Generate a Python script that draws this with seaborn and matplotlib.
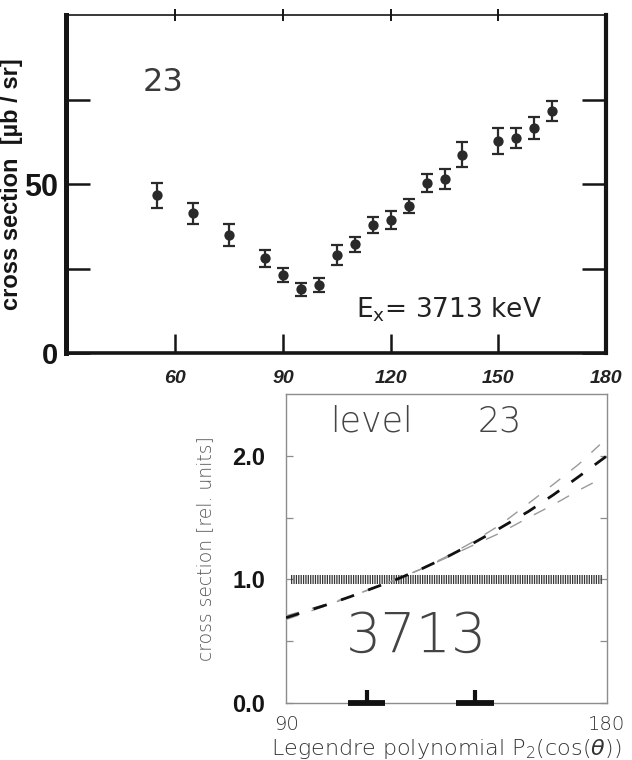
import numpy as np
import pandas as pd
import matplotlib
matplotlib.use("Agg")
import matplotlib.pyplot as plt
import seaborn as sns

# ---- measured angular distribution, level 23 (Ex = 3713 keV) ----
angle_deg = [55, 65, 75, 85, 90, 95, 100, 105, 110, 115, 120, 125, 130, 135, 140, 150, 155, 160, 165]
xsec_ub = [46.7, 41.3, 34.9, 28.0, 23.1, 18.8, 20.1, 28.9, 32.2, 37.9, 39.3, 43.5, 50.4, 51.4, 58.6, 62.7, 63.7, 66.5, 71.7]
xsec_err = [3.7, 3.1, 3.3, 2.6, 2.1, 2.0, 2.0, 3.0, 2.2, 2.3, 2.7, 2.2, 2.7, 2.9, 3.7, 3.9, 3.0, 3.3, 3.0]
top_xticks = [60, 90, 120, 150, 180]
top_yticks = [0, 25, 50, 75]
top_ylabels = ["0", "", "50", ""]

# ---- Legendre fit, relative units ----
fit_angle = [90, 96, 102, 108, 114, 121, 128, 135, 142, 150, 158, 165, 172, 180]
fit_value = [0.69, 0.745, 0.80, 0.86, 0.925, 1.0, 1.085, 1.18, 1.285, 1.415, 1.55, 1.685, 1.83, 2.0]
upper_angle = [90, 96, 102, 108, 114, 121, 128, 135, 142, 150, 158, 165, 172, 178]
upper_value = [0.705, 0.755, 0.805, 0.86, 0.925, 1.0, 1.085, 1.185, 1.297, 1.44, 1.615, 1.77, 1.93, 2.09]
lower_angle = [90, 96, 102, 108, 114, 121, 128, 135, 142, 150, 158, 165, 172, 176]
lower_value = [0.675, 0.735, 0.795, 0.86, 0.925, 1.0, 1.085, 1.175, 1.27, 1.375, 1.50, 1.605, 1.72, 1.78]
isotropic_angle = [91, 179]
isotropic_level = 1.0
marked_angle = [112.6, 143.0]
bottom_yticks = [0.0, 0.5, 1.0, 1.5, 2.0]
bottom_ylabels = ["0.0", "", "1.0", "", "2.0"]
bottom_xticks = [90, 180]

sns.set_style("white")
plt.rcParams["font.family"] = ["Liberation Sans", "DejaVu Sans"]
plt.rcParams["hatch.linewidth"] = 0.9

NARROW = ["Liberation Sans Narrow", "Liberation Sans", "DejaVu Sans"]
THIN = ["DejaVu Sans", "Open Sans"]
THIN_W = 200
INK = "#151515"

fig = plt.figure(figsize=(6.32, 7.60), dpi=100)

# ================= upper panel: measured cross section =================
ax1 = fig.add_axes([66 / 632, 1 - 353 / 760, 540 / 632, 338 / 760])
pts = pd.DataFrame({"angle": angle_deg, "xsec": xsec_ub, "err": xsec_err})
ax1.errorbar(pts["angle"], pts["xsec"], yerr=pts["err"], fmt="none",
             ecolor="#2a2a2a", elinewidth=1.6, capsize=4.6, capthick=1.6, zorder=2)
sns.scatterplot(data=pts, x="angle", y="xsec", ax=ax1, color="#2a2a2a",
                s=55, marker="o", edgecolor="#2a2a2a", linewidth=0, zorder=3)
ax1.set_xlim(29.5, 180)
ax1.set_ylim(0, 100)

for side, lw in (("left", 3.6), ("right", 3.0), ("top", 1.2), ("bottom", 2.6)):
    ax1.spines[side].set_visible(True)
    ax1.spines[side].set_linewidth(lw)
    ax1.spines[side].set_color(INK)

ax1.set_xticks(top_xticks)
ax1.set_xticklabels([str(t) for t in top_xticks])
ax1.set_xticks(top_xticks[:-1], minor=True)
ax1.xaxis.remove_overlapping_locs = False
ax1.tick_params(axis="x", which="major", direction="in", length=14, width=1.8,
                color=INK, bottom=True, top=False, pad=12)
ax1.tick_params(axis="x", which="minor", direction="inout", length=9, width=1.4,
                color=INK, bottom=False, top=True)
for lbl in ax1.get_xticklabels():
    lbl.set_fontfamily(NARROW)
    lbl.set_fontsize(14)
    lbl.set_fontweight("bold")
    lbl.set_fontstyle("italic")
    lbl.set_color("#222222")

ax1.set_yticks(top_yticks)
ax1.set_yticklabels(top_ylabels)
ax1.tick_params(axis="y", which="major", direction="in", length=17, width=1.8,
                color=INK, left=True, right=True, pad=6)
for lbl in ax1.get_yticklabels():
    lbl.set_fontfamily(NARROW)
    lbl.set_fontweight("bold")
    lbl.set_fontsize(22 if lbl.get_text() == "50" else 21)
    lbl.set_color(INK)

ax1.set_xlabel("")
ax1.set_ylabel("cross section  [\u00b5b / sr]", fontsize=17, fontweight="bold", color=INK)
ax1.yaxis.set_label_coords(-0.08, 0.5)

ax1.text(56.5, 80, "23", fontfamily="DejaVu Sans", fontsize=23, color="#3a3a3a",
         ha="center", va="center")
ax1.text(110.3, 12.8, r"E$_{\mathregular{x}}$= 3713 keV", fontfamily=THIN, fontweight=300,
         fontsize=19, color="#222222", ha="left", va="center")

# ================= lower panel: Legendre P2 fit =================
ax2 = fig.add_axes([286 / 632, 1 - 703 / 760, 321 / 632, 309 / 760])
ax2.set_xlim(90, 180)
ax2.set_ylim(0, 2.5)

ax2.fill_between(isotropic_angle, isotropic_level - 0.036, isotropic_level + 0.036,
                 hatch="|" * 7, facecolor="none", edgecolor="#333333", linewidth=0, zorder=2)

dash = (0, (5.0, 5.4))
sns.lineplot(x=upper_angle, y=upper_value, ax=ax2, color="#9a9a9a", linewidth=1.0,
             linestyle=(0, (9.4, 10.0)), zorder=3)
sns.lineplot(x=lower_angle, y=lower_value, ax=ax2, color="#9a9a9a", linewidth=1.0,
             linestyle=(0, (9.4, 10.0)), zorder=3)
sns.lineplot(x=fit_angle, y=fit_value, ax=ax2, color="#111111", linewidth=2.0,
             linestyle=dash, zorder=4)

# angular ranges covered by the detectors
half_width = 5.2
stem_height = 0.105
for a in marked_angle:
    ax2.hlines(0, a - half_width, a + half_width, color="#111111", linewidth=4.2,
               clip_on=False, zorder=5)
    ax2.vlines(a, 0, stem_height, color="#111111", linewidth=3.0, clip_on=False, zorder=5)

for side in ("left", "right", "top", "bottom"):
    ax2.spines[side].set_visible(True)
    ax2.spines[side].set_linewidth(1.0)
    ax2.spines[side].set_color("#8c8c8c")

ax2.set_yticks(bottom_yticks)
ax2.set_yticklabels(bottom_ylabels)
ax2.tick_params(axis="y", direction="in", length=5, width=0.9, color="#8c8c8c",
                left=True, right=True, pad=15)
for lbl in ax2.get_yticklabels():
    lbl.set_fontfamily(NARROW)
    lbl.set_fontweight("bold")
    lbl.set_fontsize(17)
    lbl.set_color(INK)

ax2.set_xticks(bottom_xticks)
ax2.set_xticklabels([str(t) for t in bottom_xticks])
ax2.tick_params(axis="x", direction="in", length=0, pad=9)
for lbl in ax2.get_xticklabels():
    lbl.set_fontfamily(THIN)
    lbl.set_fontweight(THIN_W)
    lbl.set_fontsize(14)
    lbl.set_color("#333333")

ax2.set_xlabel(r"Legendre polynomial P$_{\mathregular{2}}$(cos($\mathit{\theta}$))",
               fontfamily=THIN, fontweight=THIN_W, fontsize=16, color="#333333")
ax2.xaxis.set_label_coords(0.5, -0.11)
ax2.set_ylabel("cross section [rel. units]", fontfamily=THIN, fontweight=THIN_W,
               fontsize=13.5, color="#555555")
ax2.yaxis.set_label_coords(-0.222, 0.5)

ax2.text(114, 2.28, "level", fontfamily=THIN, fontweight=THIN_W, fontsize=25,
         color="#444444", ha="center", va="center")
ax2.text(150, 2.28, "23", fontfamily=THIN, fontweight=THIN_W, fontsize=25,
         color="#444444", ha="center", va="center")
ax2.text(126.7, 0.535, "3713", fontfamily=THIN, fontweight=THIN_W, fontsize=40,
         color="#444444", ha="center", va="center")

fig.savefig("out.png", dpi=100, facecolor="white")
